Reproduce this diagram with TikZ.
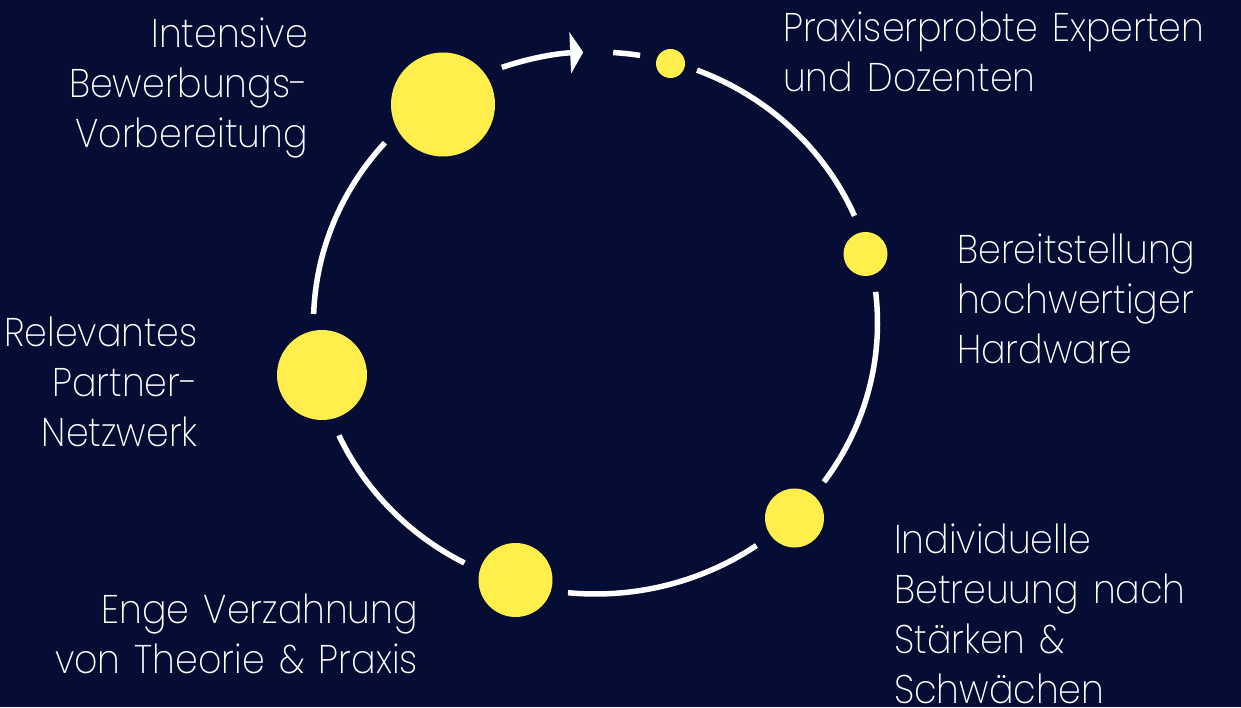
\documentclass[tikz,border=0pt]{standalone}
\usepackage{fontspec}
\setmainfont{Poppins}[UprightFont=* ExtraLight,FakeStretch=0.91,WordSpace=1.4]
\usetikzlibrary{arrows.meta}
\definecolor{bgnavy}{HTML}{050D35}
\definecolor{dotyellow}{HTML}{FFEE4B}
\tikzset{
  dot/.style={circle,fill=dotyellow,inner sep=0pt,minimum size=#1},
  ring/.style={draw=white,line width=5.5pt,line cap=butt},
  lbl/.style={text=white,inner sep=0pt,font=\fontsize{40}{50}\selectfont},
  lblL/.style={lbl,anchor=base west,align=left},
  lblR/.style={lbl,anchor=base east,align=right},
  ell/.style={x radius=282,y radius=271}
}
\begin{document}
\begin{tikzpicture}[x=1pt,y=1pt]
\useasboundingbox (0,0) rectangle (1241,707);
\fill[bgnavy] (0,0) rectangle (1241,707);
\coordinate (c) at (595.5,384);
% dots
\node[dot=104pt] (big) at (443,602.5) {};
\node[dot=29pt] (top) at (670.5,643.5) {};
\node[dot=44pt] (right) at (865.5,453) {};
\node[dot=59pt] (lright) at (794.5,189) {};
\node[dot=74pt] (bottom) at (515.5,127) {};
\node[dot=90pt] (left) at (322,332) {};
% arc end points
\coordinate (sA) at ([shift={(109.4:282 and 271)}]c);
\coordinate (sB) at ([shift={(86.4:282 and 271)}]c);
\coordinate (sC) at ([shift={(68.9:282 and 271)}]c);
\coordinate (sD) at ([shift={(6.6:282 and 271)}]c);
\coordinate (sE) at ([shift={(-55.2:282 and 271)}]c);
\coordinate (sF) at ([shift={(-117.7:282 and 271)}]c);
\coordinate (sG) at ([shift={(178.1:282 and 271)}]c);
% arcs
\draw[ring,-{Triangle[length=13pt,width=41pt]}] (sA) arc[start angle=109.4,end angle=92.5,ell];
\draw[ring] (sB) arc[start angle=86.4,end angle=80.9,ell];
\draw[ring] (sC) arc[start angle=68.9,end angle=23.3,ell];
\draw[ring] (sD) arc[start angle=6.6,end angle=-35.9,ell];
\draw[ring] (sE) arc[start angle=-55.2,end angle=-95.6,ell];
\draw[ring] (sF) arc[start angle=-117.7,end angle=-155.5,ell];
\draw[ring] (sG) arc[start angle=178.1,end angle=138.3,ell];
% labels (anchored at the baseline of the last line)
\node[lblR] (t1) at (308,559) {Intensive\\Bewerbungs-\\Vorbereitung};
\node[lblL] (t2) at (783,615) {Praxiserprobte Experten\\und Dozenten};
\node[lblL] (t3) at (957,343) {Bereitstellung\\hochwertiger\\Hardware};
\node[lblL] (t4) at (894,4) {Individuelle\\Betreuung nach\\Stärken \&\\Schwächen};
\node[lblR] (t5) at (418,34) {Enge Verzahnung\\von Theorie \& Praxis};
\node[lblR] (t6) at (198,260) {Relevantes\\Partner-\\Netzwerk};
\end{tikzpicture}
\end{document}
